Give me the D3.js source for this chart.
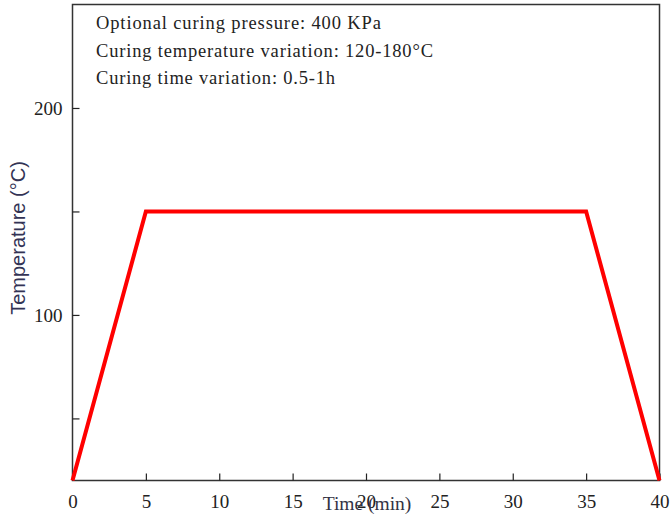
<!DOCTYPE html>
<html>
<head>
<meta charset="utf-8">
<script src="https://cdn.jsdelivr.net/npm/d3@7"></script>
<style>
  body { margin: 0; background: #fff; }
  svg { display: block; }
</style>
</head>
<body>
<script>
// curing profile
var times = [0, 5, 35, 40];
var temps = [20, 150, 150, 20];
var xTicks = [0, 5, 10, 15, 20, 25, 30, 35, 40];
var yTicks = [50, 100, 150, 200];
var yLabels = [100, 200];
var notes = ["Optional curing pressure: 400 KPa",
             "Curing temperature variation: 120-180\u00b0C",
             "Curing time variation: 0.5-1h"];
var noteWidths = [285, 337, 239];

var W = 672, H = 515;
var m = { left: 72.5, right: 659.5, top: 4.5, bottom: 480.5 };

var svg = d3.select("body").append("svg").attr("width", W).attr("height", H);

var x = d3.scaleLinear().domain([0, 40]).range([m.left, m.right]);
var y = d3.scaleLinear().domain([20, 250]).range([m.bottom, m.top]);

var serif = "'Liberation Serif', 'Times New Roman', serif";

// frame
svg.append("rect").attr("x", m.left).attr("y", m.top)
    .attr("width", m.right - m.left).attr("height", m.bottom - m.top)
    .attr("fill", "none").attr("stroke", "#333").attr("stroke-width", 1.5);

// x axis, ticks point inward
var xAxis = svg.append("g").attr("transform", "translate(0," + m.bottom + ")")
    .call(d3.axisBottom(x).tickValues(xTicks).tickSizeInner(-7).tickSizeOuter(0).tickPadding(14));
xAxis.select(".domain").remove();
xAxis.selectAll("line").attr("stroke", "#222").attr("stroke-width", 1.2);
xAxis.selectAll("text").attr("font-family", serif).attr("font-size", 19).attr("fill", "#222");

var yAxis = svg.append("g").attr("transform", "translate(" + m.left + ",0)")
    .call(d3.axisLeft(y).tickValues(yTicks).tickSizeInner(-7).tickSizeOuter(0).tickPadding(10)
        .tickFormat(function (d) { return yLabels.indexOf(d) >= 0 ? d : ""; }));
yAxis.select(".domain").remove();
yAxis.selectAll("line").attr("stroke", "#222").attr("stroke-width", 1.2);
yAxis.selectAll("text").attr("font-family", serif).attr("font-size", 19).attr("fill", "#222");

// profile line
var line = d3.line().x(function (d, i) { return x(times[i]); }).y(function (d) { return y(d); });
svg.append("path").datum(temps).attr("d", line)
    .attr("fill", "none").attr("stroke", "#ff0000").attr("stroke-width", 4)
    .attr("stroke-linejoin", "miter");

// annotations
svg.selectAll(".note").data(notes).enter().append("text")
    .attr("class", "note")
    .attr("x", 96).attr("y", function (d, i) { return 29 + i * 27.5; })
    .attr("font-family", serif).attr("font-size", 18.5).attr("fill", "#222")
    .attr("textLength", function (d, i) { return noteWidths[i]; })
    .attr("lengthAdjust", "spacing")
    .text(function (d) { return d; });

// axis titles
svg.append("text").attr("x", 367).attr("y", 510).attr("text-anchor", "middle")
    .attr("font-family", serif).attr("font-size", 19.5).attr("fill", "#333344")
    .text("Time (min)");

svg.append("text").attr("transform", "translate(25,238) rotate(-90)")
    .attr("text-anchor", "middle")
    .attr("font-family", "'Liberation Sans', Arial, sans-serif").attr("font-size", 20)
    .attr("fill", "#333355")
    .text("Temperature (\u00b0C)");
</script>
</body>
</html>
